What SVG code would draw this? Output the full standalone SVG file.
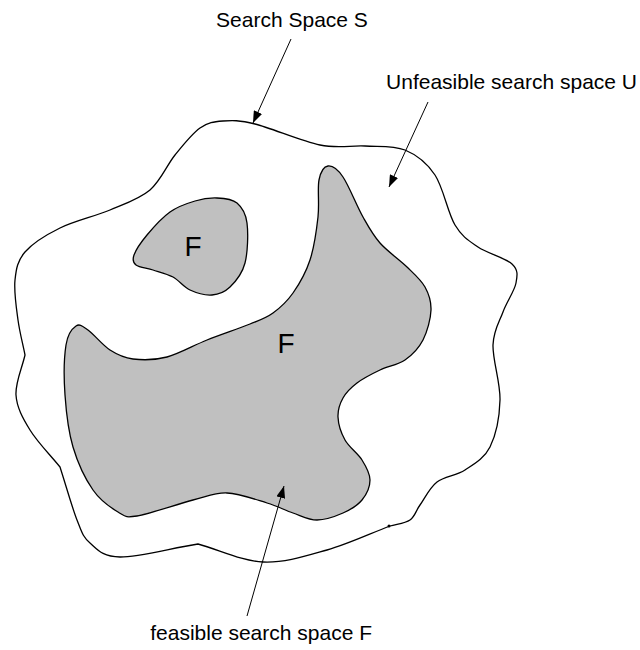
<svg xmlns="http://www.w3.org/2000/svg" width="640" height="650" viewBox="0 0 640 650">
<defs>
<marker id="ah" viewBox="0 0 12 9" refX="12" refY="4.5" markerWidth="12" markerHeight="9" markerUnits="userSpaceOnUse" orient="auto">
<path d="M0,0 L12,4.5 L0,9 Z" fill="#000"/>
</marker>
<style>
.outline{fill:none;stroke:#000;stroke-width:1.3}
.feas{fill:#c0c0c0;stroke:#000;stroke-width:1.3}
.conn{fill:none;stroke:#000;stroke-width:1;marker-end:url(#ah)}
.lbl{font-family:"Liberation Sans",Arial,Helvetica,sans-serif;font-size:21px;fill:#000}
.big{font-family:"Liberation Sans",Arial,Helvetica,sans-serif;font-size:28px;fill:#000;text-anchor:middle}
</style>
</defs>
<rect width="640" height="650" fill="#fff"/>
<g id="search-space-S">
<path class="outline" d="M 223,121 C 232.2,120.3 238.8,120 255,124 C 271.2,128 301.7,141.3 320,145 C 338.3,148.7 350.8,145.2 365,146 C 379.2,146.8 393.3,145.2 405,150 C 416.7,154.8 426.7,162.5 435,175 C 443.3,187.5 447.8,213 455,225 C 462.2,237 468.5,240.5 478,247 C 487.5,253.5 505.7,258 512,264 C 518.3,270 517.5,275 516,283 C 514.5,291 506.8,301.7 503,312 C 499.2,322.3 493.5,330.3 493,345 C 492.5,359.7 500.5,383 500,400 C 499.5,417 495.8,435.3 490,447 C 484.2,458.7 473.8,464.2 465,470 C 456.2,475.8 444.5,476.2 437,482 C 429.5,487.8 424.5,498.7 420,505 C 415.5,511.3 415,516.5 410,520 C 405,523.5 396.7,524 390,526 C 369,534 348.2,544 327,550 C 305.8,556 284.5,563 263,562 C 241.5,561 219.7,550 198,544 C 172,548 138,557.2 120,557 C 102,556.8 97.2,549.2 90,543 C 82.8,536.8 82,532.7 77,520 C 72,507.3 65.7,484.7 60,467 C 50,454.7 37.3,442 30,430 C 22.7,418 16.8,407.5 16,395 C 15.2,382.5 22,368.3 25,355 C 22.7,343.3 19.7,332.5 18,320 C 16.3,307.5 13.8,291.3 15,280 C 16.2,268.7 17.5,260.7 25,252 C 32.5,243.3 45.8,235 60,228 C 74.2,221 95,216.3 110,210 C 125,203.7 139.2,199.2 150,190 C 160.8,180.8 166.7,165.3 175,155 C 183.3,144.7 192,133.7 200,128 C 208,122.3 213.8,121.7 223,121 Z"/>
<circle cx="389" cy="526" r="1.5" fill="#000"/>
</g>
<g id="feasible-F-small">
<path class="feas" d="M 217,198 C 224,198.3 232,198.8 237,203 C 242,207.2 245.7,213 247,223 C 248.3,233 247.8,252.3 245,263 C 242.2,273.7 235.5,281.7 230,287 C 224.5,292.3 218.7,294.5 212,295 C 205.3,295.5 196.5,293 190,290 C 183.5,287 179.2,280.3 173,277 C 166.8,273.7 159.2,272 153,270 C 146.8,268 139.2,267.5 136,265 C 132.8,262.5 132.2,260 134,255 C 135.8,250 141,242.2 147,235 C 153,227.8 162,217.7 170,212 C 178,206.3 187.2,203.3 195,201 C 202.8,198.7 210,197.7 217,198 Z"/>
<text class="big" x="193" y="256">F</text>
</g>
<g id="feasible-F-large">
<path class="feas" d="M 328,166 C 332,165.5 337.2,168.5 343,177 C 348.8,185.5 356.8,206 363,217 C 369.2,228 372.7,234.7 380,243 C 387.3,251.3 399.5,259.7 407,267 C 414.5,274.3 421,279.8 425,287 C 429,294.2 431.3,301.2 431,310 C 430.7,318.8 427.3,331.7 423,340 C 418.7,348.3 412.2,355 405,360 C 397.8,365 388,366.2 380,370 C 372,373.8 363.2,378.3 357,383 C 350.8,387.7 346.2,392.3 343,398 C 339.8,403.7 337.7,410 338,417 C 338.3,424 341,432.8 345,440 C 349,447.2 357.8,453.3 362,460 C 366.2,466.7 370,473.3 370,480 C 370,486.7 366.5,494.5 362,500 C 357.5,505.5 350.5,509.7 343,513 C 335.5,516.3 325.3,520 317,520 C 308.7,520 301.3,515.8 293,513 C 284.7,510.2 278,506.3 267,503 C 256,499.7 239.3,493.5 227,493 C 214.7,492.5 208,496.2 193,500 C 178,503.8 149.5,514 137,516 C 124.5,518 125.3,516.3 118,512 C 110.7,507.7 100.5,500.8 93,490 C 85.5,479.2 77.7,462.8 73,447 C 68.3,431.2 66.2,412 65,395 C 63.8,378 64.2,356.5 66,345 C 67.8,333.5 72.3,328.5 76,326 C 79.7,323.5 82.3,326 88,330 C 93.7,334 102.5,345.2 110,350 C 117.5,354.8 123.5,357.8 133,359 C 142.5,360.2 154.7,360.2 167,357 C 179.3,353.8 193.2,345.5 207,340 C 220.8,334.5 239,328.5 250,324 C 261,319.5 265.8,318.2 273,313 C 280.2,307.8 286.8,301.8 293,293 C 299.2,284.2 305.8,272.7 310,260 C 314.2,247.3 316.5,230.3 318,217 C 319.5,203.7 317.3,188.5 319,180 C 320.7,171.5 324,166.5 328,166 Z"/>
<text class="big" x="286" y="353">F</text>
</g>
<g id="labels">
<text class="lbl" x="292" y="27" text-anchor="middle">Search Space S</text>
<text class="lbl" x="637" y="89" text-anchor="end">Unfeasible search space U</text>
<text class="lbl" x="372" y="640" text-anchor="end">feasible search space F</text>
</g>
<g id="connectors">
<line class="conn" x1="291" y1="39" x2="253" y2="123"/>
<line class="conn" x1="428" y1="102" x2="389" y2="187"/>
<line class="conn" x1="247" y1="616" x2="284" y2="486"/>
</g>
</svg>
